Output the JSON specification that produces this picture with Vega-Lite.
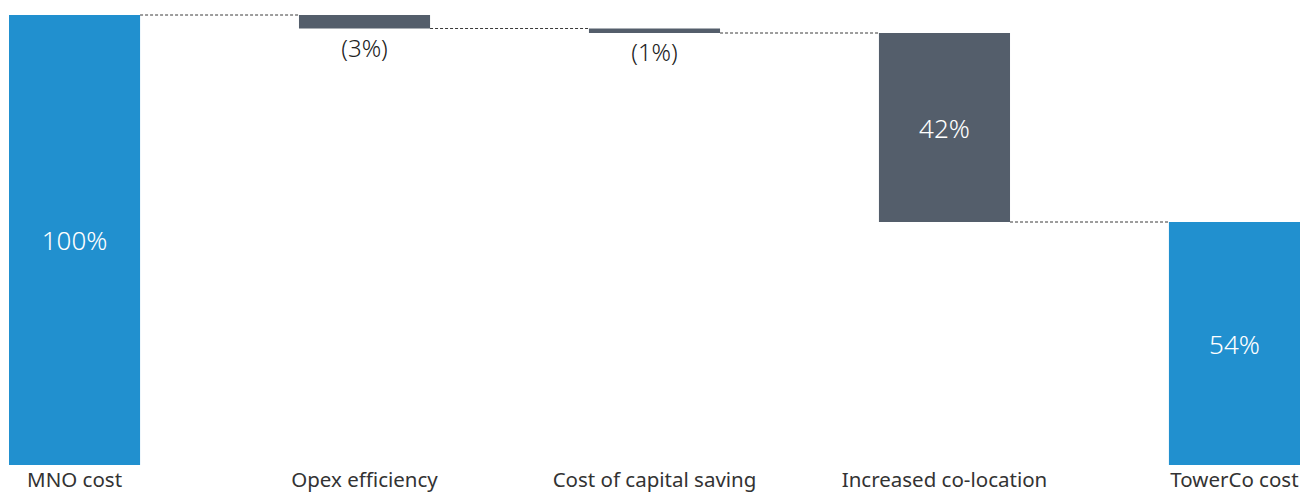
{
  "$schema": "https://vega.github.io/schema/vega-lite/v6.json",
  "autosize": {"type": "none"},
  "padding": {"left": 9, "top": 15, "right": 15, "bottom": 28},
  "width": 1291,
  "height": 450,
  "background": "white",
  "config": {"view": {"stroke": null}, "font": "Noto Sans"},
  "datasets": {
    "bars": [
      {"cat": "MNO cost", "start": 0, "end": 100, "label": "100%", "kind": "total", "inside": true},
      {"cat": "Opex efficiency", "start": 97, "end": 100, "label": "(3%)", "kind": "delta", "inside": false},
      {"cat": "Cost of capital saving", "start": 96, "end": 97, "label": "(1%)", "kind": "delta", "inside": false},
      {"cat": "Increased co-location", "start": 54, "end": 96, "label": "42%", "kind": "delta", "inside": true},
      {"cat": "TowerCo cost", "start": 0, "end": 54, "label": "54%", "kind": "total", "inside": true}
    ],
    "links": [
      {"from": "MNO cost", "to": "Opex efficiency", "level": 100},
      {"from": "Opex efficiency", "to": "Cost of capital saving", "level": 97},
      {"from": "Cost of capital saving", "to": "Increased co-location", "level": 96},
      {"from": "Increased co-location", "to": "TowerCo cost", "level": 54}
    ]
  },
  "layer": [
    {
      "data": {"name": "bars"},
      "mark": {"type": "bar"},
      "encoding": {
        "x": {
          "field": "cat", "type": "nominal", "sort": null,
          "scale": {"paddingInner": 0.548, "paddingOuter": 0},
          "axis": {"title": null, "domain": false, "ticks": false, "tickSize": 0, "labelAngle": 0, "labelPadding": 5, "labelFontSize": 20.5, "labelColor": "#333333", "labelFont": "Noto Sans", "labelLimit": 300}
        },
        "y": {"field": "start", "type": "quantitative", "scale": {"domain": [0, 100], "nice": false}, "axis": null},
        "y2": {"field": "end"},
        "color": {"field": "kind", "type": "nominal", "scale": {"domain": ["total", "delta"], "range": ["#2190CF", "#545E6B"]}, "legend": null}
      }
    },
    {
      "data": {"name": "links"},
      "mark": {"type": "rule", "strokeDash": [3, 2], "strokeWidth": 1, "color": "#3a3a3a"},
      "encoding": {
        "x": {"field": "from", "type": "nominal", "sort": null, "bandPosition": 1},
        "x2": {"field": "to", "bandPosition": 0},
        "y": {"field": "level", "type": "quantitative"}
      }
    },
    {
      "data": {"name": "bars"},
      "transform": [{"filter": "datum.inside"}, {"calculate": "(datum.start + datum.end) / 2", "as": "mid"}],
      "mark": {"type": "text", "color": "white", "fontSize": 26, "font": "Noto Sans", "fontWeight": 300, "baseline": "middle", "align": "center", "dy": 2},
      "encoding": {
        "x": {"field": "cat", "type": "nominal", "sort": null},
        "y": {"field": "mid", "type": "quantitative"},
        "text": {"field": "label"}
      }
    },
    {
      "data": {"name": "bars"},
      "transform": [{"filter": "!datum.inside"}],
      "mark": {"type": "text", "color": "#222222", "fontSize": 24, "font": "Noto Sans", "fontWeight": 300, "baseline": "top", "align": "center", "dy": 9},
      "encoding": {
        "x": {"field": "cat", "type": "nominal", "sort": null},
        "y": {"field": "start", "type": "quantitative"},
        "text": {"field": "label"}
      }
    }
  ]
}
